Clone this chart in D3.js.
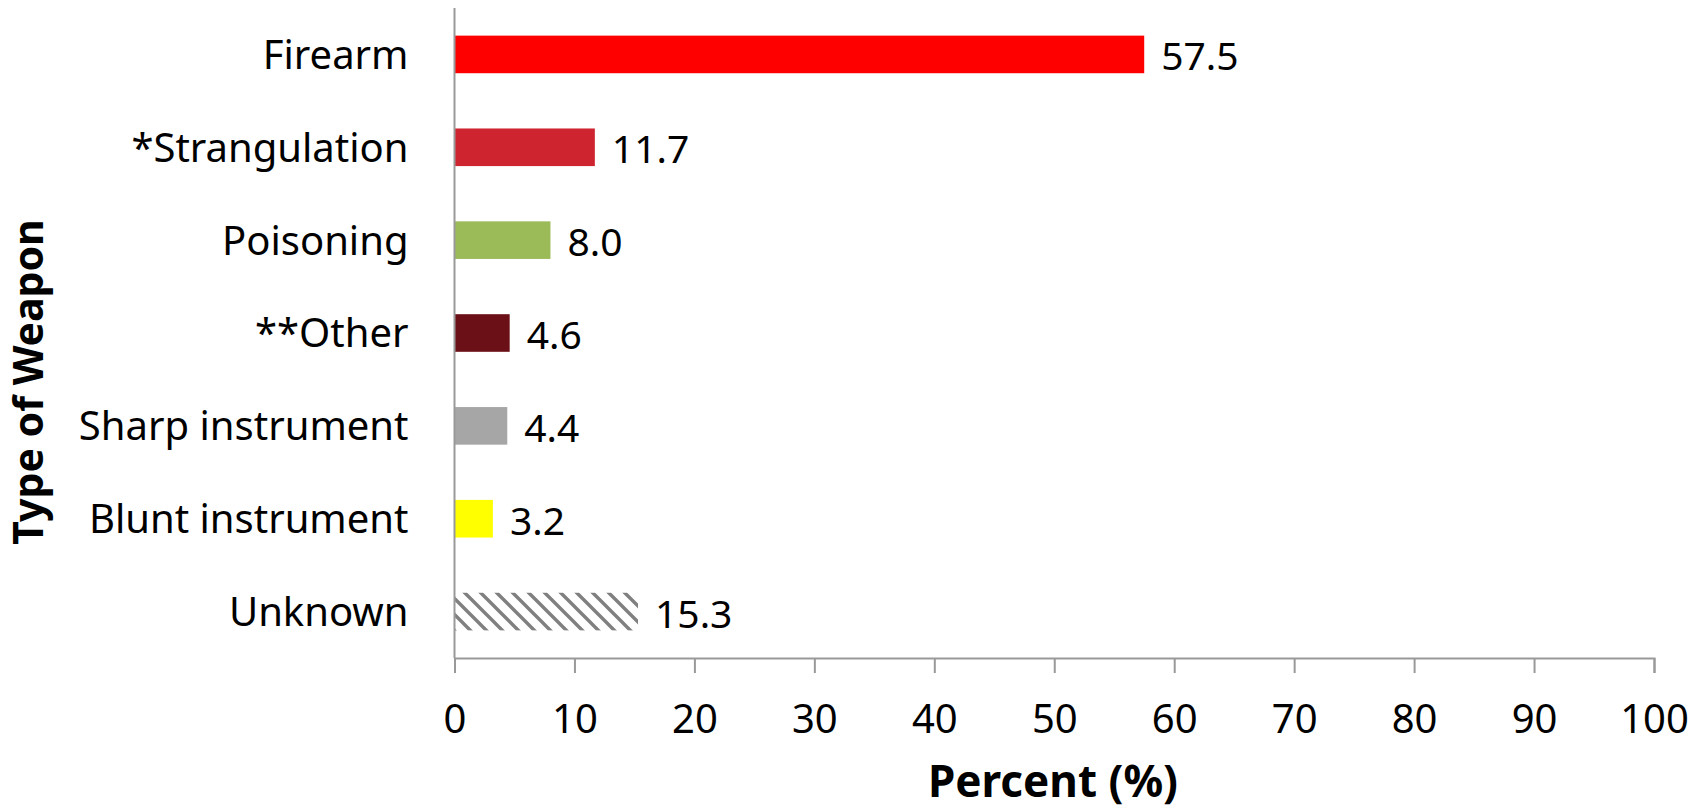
<!DOCTYPE html>
<html>
<head>
<meta charset="utf-8">
<script src="https://cdn.jsdelivr.net/npm/d3@7"></script>
<style>
  html, body { margin: 0; padding: 0; background: #fff; }
  svg { display: block; }
  text { font-family: "Noto Sans", "Open Sans", sans-serif; fill: #000; }
</style>
</head>
<body>
<svg id="chart" width="1703" height="811"></svg>
<script>
const categories = ["Firearm", "*Strangulation", "Poisoning", "**Other", "Sharp instrument", "Blunt instrument", "Unknown"];
const values = [57.5, 11.7, 8.0, 4.6, 4.4, 3.2, 15.3];
const colors = ["#FF0000", "#CD2430", "#9BBB59", "#6A1016", "#A6A6A6", "#FFFF00", "url(#hatch)"];
const xTicks = [0, 10, 20, 30, 40, 50, 60, 70, 80, 90, 100];
const xTitle = "Percent (%)";
const yTitle = "Type of Weapon";

const svg = d3.select("#chart");
const margin = { left: 454.5, right: 49, top: 8, bottom: 153 };
const W = 1703, H = 811;

const defs = svg.append("defs");
const pat = defs.append("pattern")
  .attr("id", "hatch")
  .attr("patternUnits", "userSpaceOnUse")
  .attr("width", 16).attr("height", 16);
pat.append("rect").attr("width", 16).attr("height", 16).attr("fill", "#fff");
pat.append("path")
  .attr("d", "M-4,-4 L20,20 M-4,12 L4,20 M12,-4 L20,4")
  .attr("stroke", "#808080").attr("stroke-width", 3.4);

const x = d3.scaleLinear().domain([0, 100]).range([margin.left, W - margin.right]);
const y = d3.scaleBand().domain(categories).range([margin.top, H - margin.bottom]).paddingInner(0.595).paddingOuter(0.2975);

// bars
svg.append("g").selectAll("rect").data(categories).join("rect")
  .attr("x", x(0))
  .attr("y", d => y(d))
  .attr("width", (d, i) => x(values[i]) - x(0))
  .attr("height", y.bandwidth())
  .attr("fill", (d, i) => colors[i]);

// value labels
svg.append("g").selectAll("text").data(categories).join("text")
  .attr("x", (d, i) => x(values[i]) + 17)
  .attr("y", d => y(d) + y.bandwidth() / 2 + 2)
  .attr("dy", "0.36em")
  .style("font-size", "39px")
  .text((d, i) => values[i].toFixed(1));

// x axis
const xAxis = svg.append("g")
  .attr("transform", `translate(0,${H - margin.bottom})`)
  .call(d3.axisBottom(x).tickValues(xTicks).tickSize(15).tickPadding(32).tickFormat(d3.format("d")));
xAxis.selectAll("path, line").attr("stroke", "#999").attr("stroke-width", 2);
xAxis.selectAll("text").style("font-size", "40px").attr("fill", "#000");
xAxis.selectAll(".tick text").attr("dy", "0.71em");

// y axis
const yAxis = svg.append("g")
  .attr("transform", `translate(${margin.left},0)`)
  .call(d3.axisLeft(y).tickSize(0).tickPadding(46));
yAxis.select("path").attr("stroke", "#999").attr("stroke-width", 2).attr("d", `M0,${margin.top}V${H - margin.bottom}`);
yAxis.selectAll("text").style("font-size", "40px").attr("fill", "#000").attr("dy", "0.36em");

// titles
svg.append("text")
  .attr("x", 1053).attr("y", 797)
  .attr("text-anchor", "middle")
  .style("font-size", "44px").style("font-weight", "bold")
  .text(xTitle);

svg.append("text")
  .attr("transform", "translate(43,382) rotate(-90)")
  .attr("text-anchor", "middle")
  .style("font-size", "41px").style("font-weight", "bold")
  .text(yTitle);
</script>
</body>
</html>
